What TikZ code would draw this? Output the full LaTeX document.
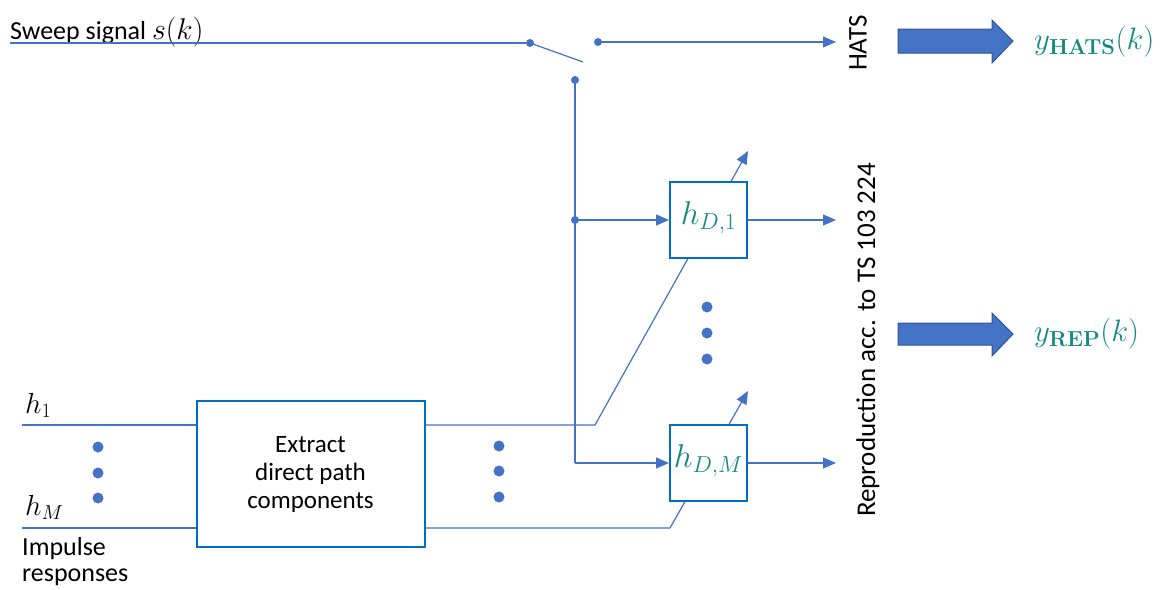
\RequirePackage{fix-cm}
\documentclass[tikz,border=0pt]{standalone}
\usepackage[no-math]{fontspec}
\setmainfont{Carlito}
\usetikzlibrary{arrows.meta}
\definecolor{ln}{HTML}{4472C4}
\definecolor{bx}{HTML}{0070C0}
\definecolor{tl}{HTML}{138A80}
\definecolor{bigb}{HTML}{2F5597}
\tikzset{
  wire/.style={draw=ln, line width=1.2pt},
  arr/.style={wire, -{Triangle[length=13pt,width=11pt]}},
  blk/.style={draw=bx, line width=2pt, fill=white, inner sep=0pt, minimum width=77pt, minimum height=76pt},
  jdot/.style={circle, fill=ln, inner sep=0pt, minimum size=8pt},
  bdot/.style={circle, fill=ln, inner sep=0pt, minimum size=11pt},
  lbl/.style={inner sep=0pt, font=\fontsize{26}{29}\selectfont},
  rlbl/.style={inner sep=0pt, rotate=90, font=\fontsize{27}{30}\selectfont},
  mlbl/.style={inner sep=0pt, font=\fontsize{29}{33}\selectfont},
  tlbl/.style={text=tl, inner sep=0pt, font=\fontsize{33}{38}\selectfont},
  ylbl/.style={text=tl, inner sep=0pt, font=\fontsize{31}{36}\selectfont},
  bigarrow/.style={fill=ln, draw=bigb, line width=1pt}
}
\begin{document}
\begin{tikzpicture}[x=1pt,y=-1pt]
\useasboundingbox (0,0) rectangle (1161,589);
% sweep input and switch
\node[lbl, anchor=base west] (sweep) at (10,39) {Sweep signal {\fontsize{30}{33}\selectfont$s(k)$}};
\coordinate (sin) at (10,43);
\node[jdot] (sw1) at (530,43) {};
\coordinate (swend) at (583,62);
\node[jdot] (sw2) at (598,42) {};
\node[jdot] (sw3) at (575,80) {};
\draw[wire] (sin) -- (sw1);
\draw[wire] (sw1.center) -- (swend);
\coordinate (hatsin) at (836,42);
\draw[arr] (sw2.center) -- (hatsin);
\node[rlbl] (hats) at (858,43) {HATS};
% extract box
\node[draw=bx, line width=2pt, fill=white, minimum width=228pt, minimum height=146pt, align=center, font=\fontsize{25}{28}\selectfont] (ext) at (310.5,474) {Extract\\direct path\\components};
% h lines
\coordinate (h1in) at (22,425);
\coordinate (hmin) at (22,528);
\draw[wire] (h1in) -- (ext.west |- h1in);
\draw[wire] (hmin) -- (ext.west |- hmin);
\coordinate (k1) at (595,425);
\coordinate (t1) at (748,151);
\coordinate (km) at (670,528);
\coordinate (tm) at (748,391);
\draw[arr] (ext.east |- h1in) -- (k1) -- (t1);
\draw[arr] (ext.east |- hmin) -- (km) -- (tm);
% filter boxes (drawn over diagonals)
\node[blk] (hd1) at (708.5,220) {};
\node[blk] (hdm) at (708.5,463) {};
\node[tlbl] (hd1t) at ([yshift=2pt]hd1.center) {$h_{D,1}$};
\node[tlbl] (hdmt) at ([yshift=2pt]hdm.center) {$h_{D,M}$};
% vertical feed
\node[jdot] (br) at (575,220) {};
\coordinate (corner) at (575,463);
\draw[wire] (sw3.center) -- (corner);
\draw[arr] (br.center) -- (hd1.west);
\draw[arr] (corner) -- (hdm.west);
% outputs
\coordinate (o1) at (836,220);
\coordinate (o2) at (836,463);
\draw[arr] (hd1.east) -- (o1);
\draw[arr] (hdm.east) -- (o2);
% labels left
\node[mlbl, anchor=base west] (h1l) at (25,413) {$h_1$};
\node[mlbl, anchor=base west] (hml) at (25,515) {$h_M$};
\node[lbl, anchor=base west] (imp1) at (22,555) {Impulse};
\node[lbl, anchor=base west] (imp2) at (22,581) {responses};
% dots
\foreach \y/\n in {447/a,473/b,498/c} \node[bdot] (ld\n) at (98,\y) {};
\foreach \y/\n in {446/a,471/b,497/c} \node[bdot] (md\n) at (499,\y) {};
\foreach \y/\n in {307/a,333/b,359/c} \node[bdot] (rd\n) at (707,\y) {};
% rotated reproduction label
\node[rlbl] (rep) at (868,340) {Reproduction acc. to TS 103 224};
% big arrows
\draw[bigarrow] (898,29) -- (992,29) -- (992,20) -- (1013,41) -- (992,63) -- (992,53) -- (898,53) -- cycle;
\draw[bigarrow] (898,323) -- (992,323) -- (992,313) -- (1013,334) -- (992,356) -- (992,345) -- (898,345) -- cycle;
\node[ylbl, anchor=west] (yh) at (1034,42) {$y_{\mathbf{HATS}}(k)$};
\node[ylbl, anchor=west] (yr) at (1034,334) {$y_{\mathbf{REP}}(k)$};
\end{tikzpicture}
\end{document}
